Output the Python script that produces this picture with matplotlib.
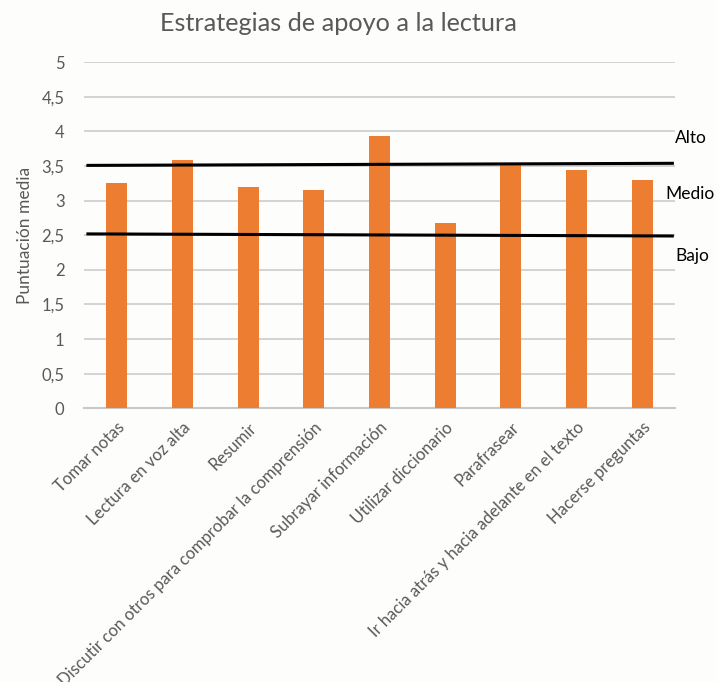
import matplotlib
matplotlib.use("Agg")
import matplotlib.pyplot as plt
import numpy as np

plt.rcParams['font.family'] = ['Lato', 'DejaVu Sans']

categories = [
    "Tomar notas",
    "Lectura en voz alta",
    "Resumir",
    "Discutir con otros para comprobar la comprensión",
    "Subrayar información",
    "Utilizar diccionario",
    "Parafrasear",
    "Ir hacia atrás y hacia adelante en el texto",
    "Hacerse preguntas",
]
scores = [3.26, 3.59, 3.20, 3.15, 3.94, 2.68, 3.52, 3.45, 3.30]

# reference levels (left end, right end)
alto_line = [3.51, 3.54]
bajo_line = [2.52, 2.49]
level_labels = ["Alto", "Medio", "Bajo"]
level_label_y = [3.9, 3.1, 2.2]

yticks = [0, 0.5, 1, 1.5, 2, 2.5, 3, 3.5, 4, 4.5, 5]
ytick_labels = ["0", "0,5", "1", "1,5", "2", "2,5", "3", "3,5", "4", "4,5", "5"]

grey = "#595959"
bar_color = "#ED7D31"

fig = plt.figure(figsize=(7.16, 6.82), dpi=100, facecolor="#fdfdfc")
ax = fig.add_axes([0.1173, 0.4013, 0.8254, 0.5074])
ax.set_facecolor("#fdfdfc")

x = np.arange(len(categories))
ax.bar(x, scores, width=0.32, color=bar_color, zorder=3)

ax.set_xlim(-0.5, len(categories) - 0.5)
ax.set_ylim(0, 5)
ax.set_yticks(yticks)
ax.set_yticklabels(ytick_labels, color=grey, fontsize=12)
ax.yaxis.grid(True, color="#d0d0d0", linewidth=1.3, zorder=0)
ax.set_axisbelow(True)
for s in ["top", "right", "left"]:
    ax.spines[s].set_visible(False)
ax.spines["bottom"].set_color("#c8c8c8")
ax.spines["bottom"].set_linewidth(1.5)
ax.tick_params(axis="both", length=0)
ax.tick_params(axis="y", pad=14)

ax.set_xticks(x)
ax.set_xticklabels(categories, rotation=45, ha="right", rotation_mode="anchor",
                   color=grey, fontsize=12)
ax.tick_params(axis="x", pad=8)

ax.set_ylabel("Puntuación media", color=grey, fontsize=12.5, labelpad=6)

# level lines
xl = [-0.44, 8.46]
ax.plot(xl, alto_line, color="black", linewidth=2.2, zorder=4, clip_on=False)
ax.plot(xl, bajo_line, color="black", linewidth=2.2, zorder=4, clip_on=False)

label_x = [8.5, 8.35, 8.5]
for lab, ly, lx in zip(level_labels, level_label_y, label_x):
    ax.text(lx, ly, lab, fontsize=12.5, color="black", va="center", ha="left",
            clip_on=False)

fig.text(0.473, 0.966, "Estrategias de apoyo a la lectura", ha="center", va="center",
         fontsize=18.2, color=grey)

fig.savefig("out.png", dpi=100, facecolor=fig.get_facecolor())
